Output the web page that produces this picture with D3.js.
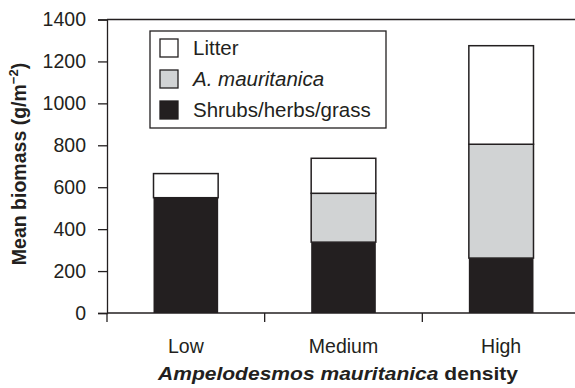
<!DOCTYPE html>
<html>
<head>
<meta charset="utf-8">
<script src="https://cdn.jsdelivr.net/npm/d3@7"></script>
<style>
  body { margin: 0; background: #fff; }
  svg text { font-family: "Liberation Sans", Arial, Helvetica, sans-serif; fill: #231f20; }
</style>
</head>
<body>
<div id="chart"></div>
<script>
// data
var categories = ["Low", "Medium", "High"];
var shrubs = [550, 338, 262];
var amaur = [0, 233, 543];
var litter = [115, 167, 470];
var yTicks = [0, 200, 400, 600, 800, 1000, 1200, 1400];

var svgWidth = 575, svgHeight = 388;
var margin = { top: 19.5, left: 107, bottom: 75, right: -5 };
var width = svgWidth - margin.left - margin.right;
var height = 313 - margin.top;

var svg = d3.select("#chart").append("svg")
    .attr("width", svgWidth)
    .attr("height", svgHeight);

var chartGroup = svg.append("g")
    .attr("transform", `translate(${margin.left}, ${margin.top})`);

// scales
var xScale = d3.scaleBand().domain(categories).range([0, width]).paddingInner(0.59).paddingOuter(0.295);
var xTickScale = d3.scaleBand().domain(categories).range([0, width]);
var yScale = d3.scaleLinear().domain([0, 1400]).range([height, 0]);

// stack the layers
var rows = categories.map(function(c, i) {
    return { cat: c, shrubs: shrubs[i], amaur: amaur[i], litter: litter[i] };
});
var keys = ["shrubs", "amaur", "litter"];
var colors = { shrubs: "#231f20", amaur: "#d1d3d4", litter: "#ffffff" };
var stacked = d3.stack().keys(keys)(rows);

stacked.forEach(function(layer) {
    chartGroup.append("g").selectAll("rect")
        .data(layer.filter(function(d) { return d[1] - d[0] > 0; }))
        .enter()
        .append("rect")
        .attr("x", function(d) { return xScale(d.data.cat); })
        .attr("width", xScale.bandwidth())
        .attr("y", function(d) { return yScale(d[1]); })
        .attr("height", function(d) { return yScale(d[0]) - yScale(d[1]); })
        .attr("fill", colors[layer.key])
        .attr("stroke", "#231f20")
        .attr("stroke-width", layer.key === "shrubs" ? 0 : 1.5);
});

// top frame line
chartGroup.append("line")
    .attr("x1", 0).attr("x2", width)
    .attr("y1", 0).attr("y2", 0)
    .attr("stroke", "#231f20").attr("stroke-width", 1.3);

// left axis
var leftAxis = d3.axisLeft(yScale).tickValues(yTicks).tickFormat(d3.format("d")).tickSize(9).tickPadding(12);
var gy = chartGroup.append("g").call(leftAxis);
gy.select(".domain").attr("stroke", "#231f20").attr("stroke-width", 1.3);
gy.selectAll(".tick line").attr("stroke", "#231f20").attr("stroke-width", 1.3);
gy.selectAll("text").style("font-size", "19.5px").attr("fill", "#231f20");

// bottom axis, ticks between categories
var gx = chartGroup.append("g").attr("transform", `translate(0, ${height})`);
gx.append("line")
    .attr("x1", 0).attr("x2", width)
    .attr("stroke", "#231f20").attr("stroke-width", 1.3);
gx.selectAll(".tk")
    .data(categories)
    .enter()
    .append("line")
    .attr("x1", function(d) { return xTickScale(d); })
    .attr("x2", function(d) { return xTickScale(d); })
    .attr("y1", 0).attr("y2", 9)
    .attr("stroke", "#231f20").attr("stroke-width", 1.3);
gx.selectAll(".lbl")
    .data(categories)
    .enter()
    .append("text")
    .attr("x", function(d) { return xScale(d) + xScale.bandwidth() / 2; })
    .attr("y", 39.5)
    .attr("text-anchor", "middle")
    .style("font-size", "19.5px")
    .text(function(d) { return d; });

// axis titles
var xt = svg.append("text")
    .attr("x", 158)
    .attr("y", 380)
    .attr("textLength", 360)
    .attr("lengthAdjust", "spacingAndGlyphs")
    .style("font-size", "19px")
    .style("font-weight", "bold");
xt.append("tspan").style("font-style", "italic").text("Ampelodesmos mauritanica");
xt.append("tspan").text(" density");

var yt = svg.append("text")
    .attr("transform", "translate(26, 164) rotate(-90)")
    .attr("text-anchor", "middle")
    .style("font-size", "19.5px")
    .style("font-weight", "bold");
yt.append("tspan").text("Mean biomass (g/m");
yt.append("tspan").attr("dy", -8).style("font-size", "13px").text("\u22122");
yt.append("tspan").attr("dy", 8).text(")");

// legend
var legendData = [
    { label: "Litter", color: "#ffffff", italic: false },
    { label: "A. mauritanica", color: "#d1d3d4", italic: true },
    { label: "Shrubs/herbs/grass", color: "#231f20", italic: false }
];
var legend = svg.append("g").attr("transform", "translate(150, 31)");
legend.append("rect")
    .attr("width", 236).attr("height", 97)
    .attr("fill", "#fff").attr("stroke", "#231f20").attr("stroke-width", 1.3);
var items = legend.selectAll(".item")
    .data(legendData)
    .enter()
    .append("g")
    .attr("transform", function(d, i) { return `translate(10, ${8 + i * 31})`; });
items.append("rect")
    .attr("width", 18).attr("height", 18)
    .attr("fill", function(d) { return d.color; })
    .attr("stroke", "#231f20").attr("stroke-width", 1.3);
items.append("text")
    .attr("x", 33).attr("y", 16)
    .style("font-size", "20.5px")
    .style("font-style", function(d) { return d.italic ? "italic" : "normal"; })
    .text(function(d) { return d.label; });
</script>
</body>
</html>
